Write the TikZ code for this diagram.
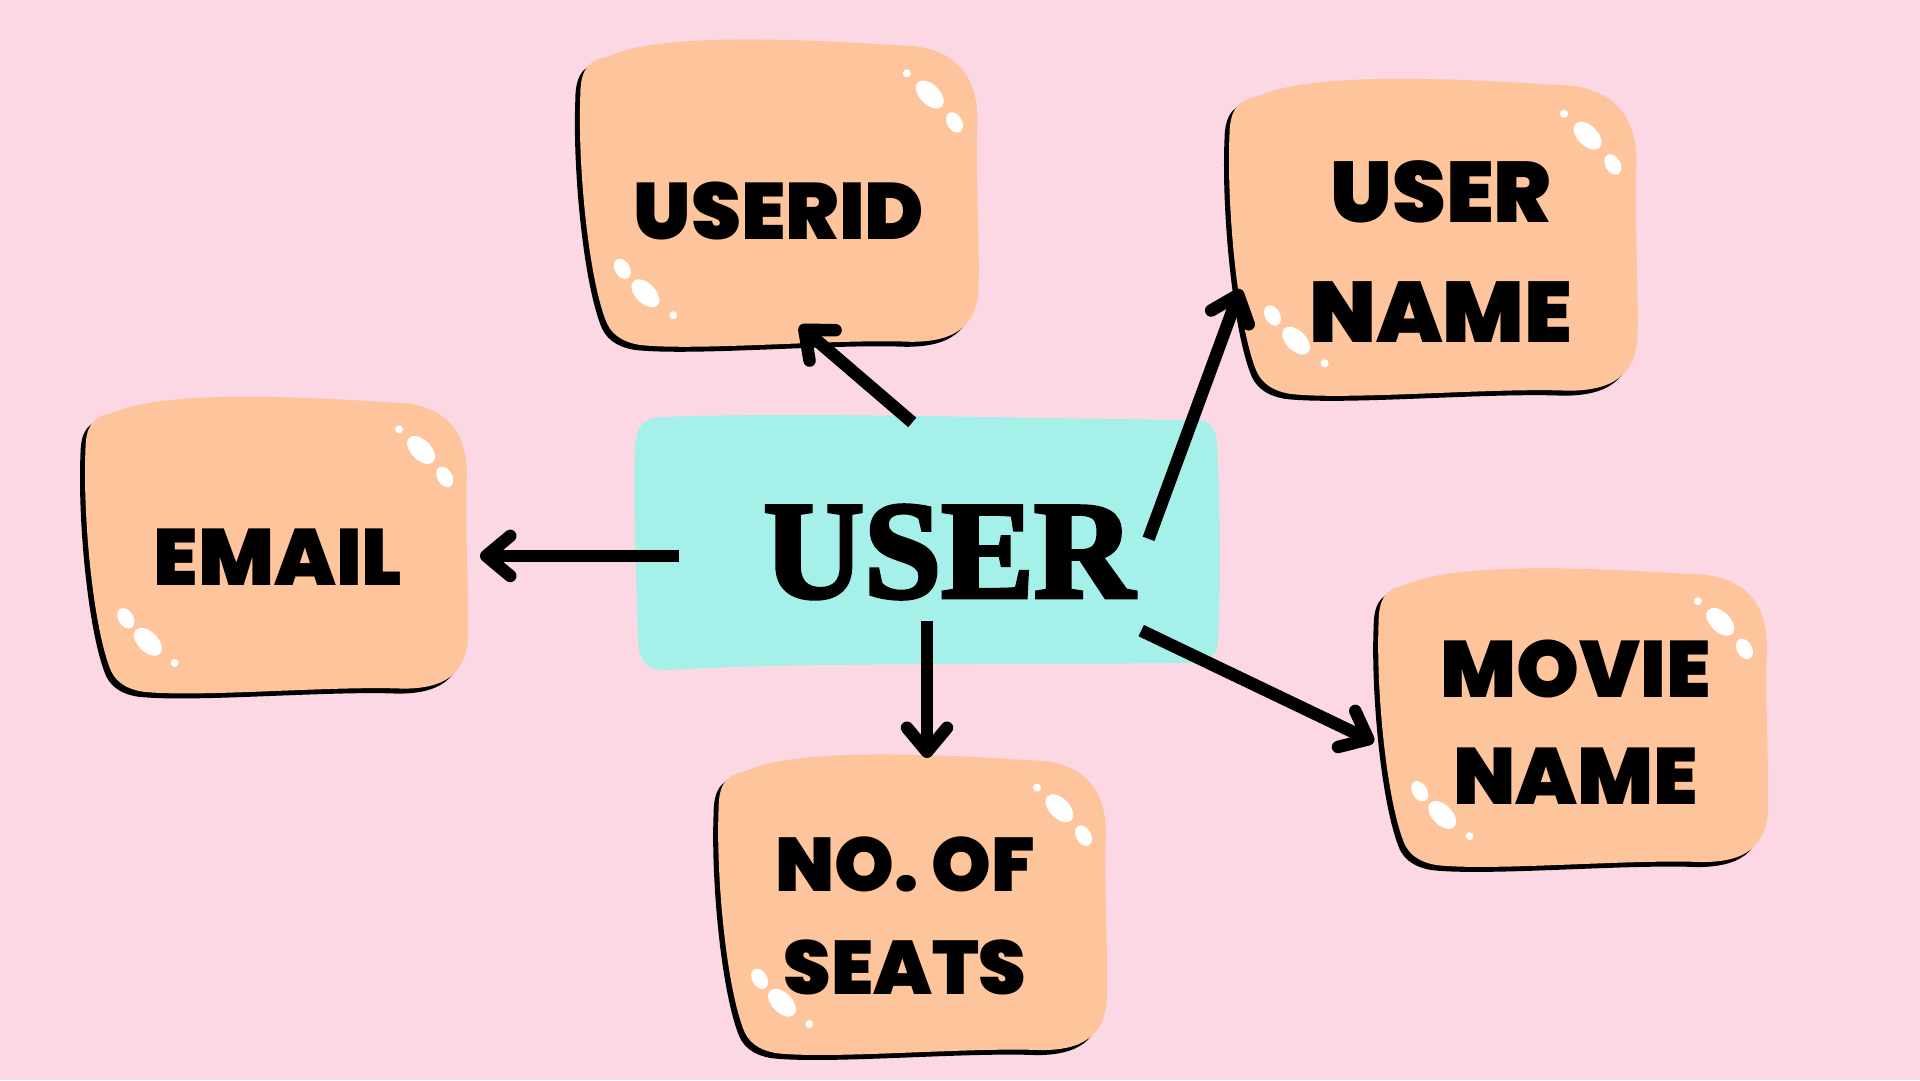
\documentclass[tikz,border=0pt]{standalone}
\usepackage{fontspec}
\setmainfont{Liberation Sans}
\newfontfamily\labfont{Poppins Black}
\newfontfamily\userfont{Liberation Serif}[BoldFeatures={FakeBold=3}]
\usetikzlibrary{arrows.meta}
\definecolor{bgpink}{RGB}{252,216,228}
\definecolor{peach}{RGB}{254,196,156}
\definecolor{aqua}{RGB}{165,240,232}
\tikzset{
  lab/.style={font=\labfont\fontsize{80}{107}\selectfont, align=center, inner sep=0pt, text=black},
  conn/.style={line width=12.5pt, -{Straight Barb[length=24pt,width=40pt,round]}},
}
\newcommand\blobpath{(0.012,0.19) .. controls (0.012,0.10) and (0.04,0.08) .. (0.08,0.07)
  .. controls (0.2,0.0) and (0.5,0.01) .. (0.80,0.035)
  .. controls (0.95,0.035) and (0.995,0.145) .. (0.995,0.27)
  .. controls (0.99,0.45) and (1.0,0.65) .. (0.998,0.78)
  .. controls (1.0,0.93) and (0.93,0.97) .. (0.83,0.97)
  .. controls (0.65,0.96) and (0.3,1.0) .. (0.16,0.98)
  .. controls (0.11,0.97) and (0.085,0.94) .. (0.074,0.9)
  .. controls (0.03,0.75) and (0.005,0.4) .. (0.012,0.19) -- cycle}
\newcommand\peachblob[4]{%
  \begin{scope}[shift={(#1,#2)},x=#3pt,y=-#4pt]
    \fill[black,shift={(-5pt,-5pt)}] \blobpath;
    \fill[peach] \blobpath;
    \fill[white] (0.82,0.123) circle [radius=4pt];
    \fill[white,shift={(0.877,0.19)},rotate=-45] (0,0) ellipse [x radius=17pt,y radius=10pt];
    \fill[white,shift={(0.938,0.278)},rotate=-60] (0,0) ellipse [x radius=11pt,y radius=7.5pt];
    \fill[white,shift={(0.116,0.74)},rotate=-60] (0,0) ellipse [x radius=11pt,y radius=7.5pt];
    \fill[white,shift={(0.173,0.817)},rotate=-45] (0,0) ellipse [x radius=17pt,y radius=10pt];
    \fill[white] (0.242,0.886) circle [radius=4pt];
  \end{scope}}
\begin{document}
\begin{tikzpicture}[x=1pt,y=-1pt]
  \fill[bgpink] (0,0) rectangle (1920,1080);
  \useasboundingbox (0,0) rectangle (1920,1080);

  % blobs
  \peachblob{575.5}{34.3}{404}{317}
  \peachblob{1224.5}{73.5}{414}{327}
  \peachblob{80.8}{391.8}{388}{306}
  \peachblob{1373.9}{563.3}{395}{308}
  \peachblob{713.9}{749.4}{394}{310}

  % centre
  \fill[aqua] (660,417) .. controls (800,412) and (1000,418) .. (1195,420)
    .. controls (1212,420) and (1217,430) .. (1217,448)
    .. controls (1221,520) and (1220,600) .. (1218,642)
    .. controls (1217,658) and (1205,662) .. (1190,663)
    .. controls (1000,665) and (800,662) .. (668,670)
    .. controls (646,671) and (639,660) .. (638,640)
    .. controls (636,560) and (633,500) .. (635,448)
    .. controls (636,425) and (645,418) .. (660,417) -- cycle;

  % texts
  \node[font=\userfont\bfseries\fontsize{139}{150}\selectfont, inner sep=0pt] (user) at (949,552) {USER};
  \node[lab] (userid) at (779,211) {USERID};
  \node[lab, font=\labfont\fontsize{86}{120}\selectfont] (username) at (1441,252) {USER\\NAME};
  \node[lab, font=\labfont\fontsize{80}{107}\selectfont] (moviename) at (1576,722) {MOVIE\\NAME};
  \node[lab] (email) at (278,557) {EMAIL};
  \node[lab, font=\labfont\fontsize{76}{103}\selectfont] (seats) at (905,916) {NO. OF\\SEATS};

  % connector ends
  \coordinate (s1) at (912.3,422.4);   \coordinate (t1) at (799.6,325.7);
  \coordinate (s2) at (1148.6,538.8);  \coordinate (t2) at (1240.4,289);
  \coordinate (s3) at (679,555.9);     \coordinate (t3) at (480,555.9);
  \coordinate (s4) at (927,620.8);     \coordinate (t4) at (927,758);
  \coordinate (s5) at (1141.2,630.6);  \coordinate (t5) at (1373.9,742);

  \draw[conn] (s1) -- (t1);
  \draw[conn] (s2) -- (t2);
  \draw[conn] (s3) -- (t3);
  \draw[conn] (s4) -- (t4);
  \draw[conn] (s5) -- (t5);
\end{tikzpicture}
\end{document}
